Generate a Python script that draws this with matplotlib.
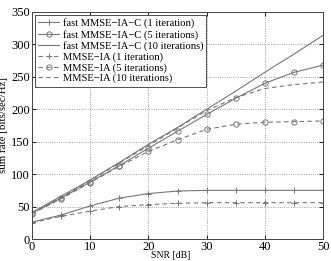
import numpy as np
import matplotlib
matplotlib.use("Agg")
import matplotlib.pyplot as plt

plt.rcParams['font.family'] = ['Liberation Serif', 'DejaVu Serif']

snr = [0, 5, 10, 15, 20, 25, 30, 35, 40, 45, 50]

fast_1 = [26, 37, 51, 63, 70, 74, 75, 75, 75, 75, 75]
fast_5 = [40, 63, 88, 113, 140, 166, 192, 217, 240, 257, 268]
fast_10 = [41, 66, 91, 118, 146, 172, 200, 228, 257, 285, 314]
mmse_1 = [25, 35, 43, 50, 53, 55, 56, 56, 56, 56, 56]
mmse_5 = [39, 62, 87, 112, 135, 153, 169, 177, 180, 181, 182]
mmse_10 = [40, 64, 90, 117, 144, 171, 198, 218, 232, 238, 242]

labels = ["fast MMSE\u2212IA\u2212C (1 iteration)",
          "fast MMSE\u2212IA\u2212C (5 iterations)",
          "fast MMSE\u2212IA\u2212C (10 iterations)",
          "MMSE\u2212IA (1 iteration)",
          "MMSE\u2212IA (5 iterations)",
          "MMSE\u2212IA (10 iterations)"]

fig = plt.figure(figsize=(3.31, 2.61), dpi=100)
ax = fig.add_axes([32 / 331, 22 / 261, 291 / 331, 227 / 261])

c = '#777777'
lw = 0.8
ax.plot(snr, fast_1, '-', marker='+', color=c, lw=lw, ms=4, mew=0.7, label=labels[0])
ax.plot(snr, fast_5, '-', marker='o', color=c, lw=lw, ms=3.8, mew=0.7, mfc='none', label=labels[1])
ax.plot(snr, fast_10, '-', color=c, lw=lw, label=labels[2])
ax.plot(snr, mmse_1, '--', marker='+', color=c, lw=lw, ms=4, mew=0.7, dashes=(4, 3), label=labels[3])
ax.plot(snr, mmse_5, '--', marker='o', color=c, lw=lw, ms=3.8, mew=0.7, mfc='none', dashes=(4, 3), label=labels[4])
ax.plot(snr, mmse_10, '--', color=c, lw=lw, dashes=(4, 3), label=labels[5])

ax.set_xlim(0, 50)
ax.set_ylim(0, 350)
ax.set_xticks([0, 10, 20, 30, 40, 50])
ax.set_yticks(np.arange(0, 351, 50))
ax.grid(True, linestyle=':', color='#888888', lw=0.6)
ax.tick_params(direction='in', labelsize=9, length=3, width=0.6, top=True, right=True, pad=1.5)
for s in ax.spines.values():
    s.set_linewidth(0.7)
    s.set_color('#444444')

ax.set_xlabel("SNR [dB]", fontsize=7)
ax.xaxis.set_label_coords(171 / 331, 0.5 / 261, transform=fig.transFigure)
ax.xaxis.label.set_va('bottom')
ax.set_ylabel("sum rate [bits/sec/Hz]", fontsize=7.8, labelpad=2)

leg = ax.legend(loc='upper left', fontsize=7.6, handlelength=2.0, handletextpad=0.3,
                borderpad=0.3, labelspacing=0.12, fancybox=False, framealpha=1,
                borderaxespad=0.3)
leg.get_frame().set_edgecolor('#333333')
leg.get_frame().set_linewidth(0.6)

fig.savefig("out.png", dpi=100)
